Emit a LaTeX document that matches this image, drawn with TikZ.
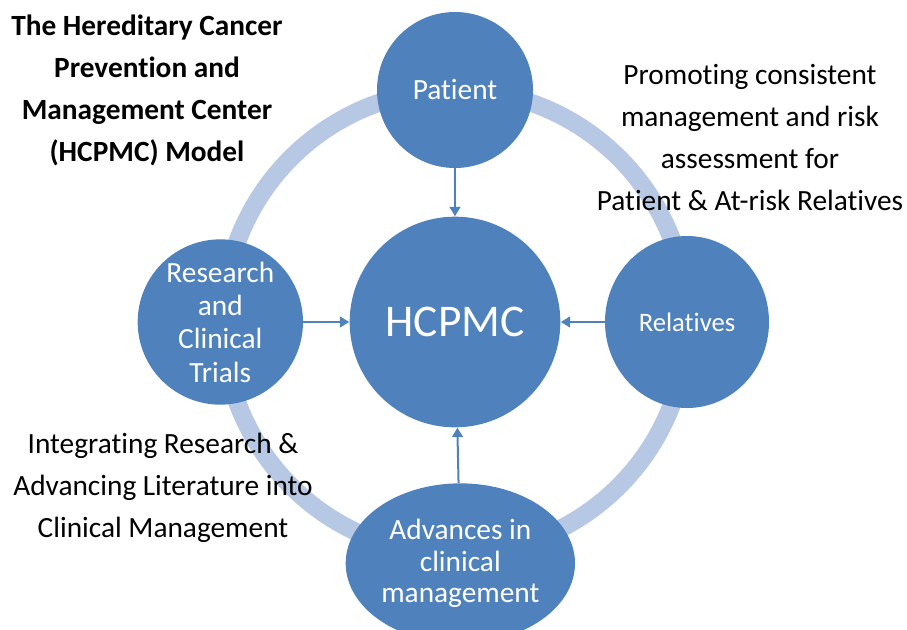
\documentclass[tikz,border=0pt]{standalone}
\usepackage{fontspec}
\setmainfont[Ligatures={NoCommon,NoRequired,NoContextual,NoRare},RawFeature={-ccmp}]{Carlito}
\usetikzlibrary{arrows.meta, shapes.geometric}

\definecolor{hcblue}{RGB}{79,129,189}
\definecolor{ringblue}{RGB}{183,200,228}

\begin{document}
\begin{tikzpicture}[
            x = 0.75pt, y = -0.75pt, % pixel units
            > = {Triangle[length=7pt, width=8pt]}, % arrow head style
            node distance = 174pt, % centre to ring
            semithick % line style
        ]

        \tikzstyle{every node}=[
            inner sep = 0pt,
            align = center
        ]
        \tikzstyle{hub}=[
            circle,
            fill = hcblue,
            text = white,
            font = \fontsize{22}{25}\selectfont
        ]
        \tikzstyle{ring}=[
            draw = ringblue,
            line width = 13.5pt
        ]
        \tikzstyle{feed}=[
            ->,
            draw = hcblue,
            line width = 1.5pt
        ]
        \tikzstyle{note}=[
            font = \fontsize{22}{31.5}\selectfont
        ]

        \useasboundingbox (0,0) rectangle (907,629);

        \coordinate (o) at (455,322);
        \draw[ring] (o) circle [radius=174pt];

        \node[hub, minimum size=158pt, font=\fontsize{34}{40}\selectfont] (hcpmc) at (o) {HCPMC};
        \node[hub, minimum size=117pt] (patient) [above of=hcpmc] {Patient};
        \node[hub, ellipse, minimum width=123pt, minimum height=129pt, font=\fontsize{20}{24}\selectfont]
            (relatives) [right of=hcpmc] {Relatives};
        \node[hub, minimum size=124pt] (research) [left of=hcpmc, xshift=-2pt] {Research\\and\\Clinical\\Trials};
        \node[hub, ellipse, minimum width=172pt, minimum height=120pt, font=\fontsize{22}{23.5}\selectfont]
            (advances) [below of=hcpmc, xshift=4pt, yshift=-7pt] {Advances in\\clinical\\management};

        \draw[feed] (patient) -- (hcpmc);
        \draw[feed] (relatives) -- (hcpmc);
        \draw[feed] (research) -- (hcpmc);
        \draw[feed] (advances) -- (hcpmc);

        \node[note, font=\bfseries\fontsize{22}{31.5}\selectfont] (title) at (147,90)
            {The Hereditary Cancer\\Prevention and\\Management Center\\(HCPMC) Model};
        \node[note] (promoting) at (750,138)
            {Promoting consistent\\management and risk\\assessment for\\Patient \& At-risk Relatives};
        \node[note] (integrating) at (163,488)
            {Integrating Research \&\\Advancing Literature into\\Clinical Management};

  \end{tikzpicture}
\end{document}
